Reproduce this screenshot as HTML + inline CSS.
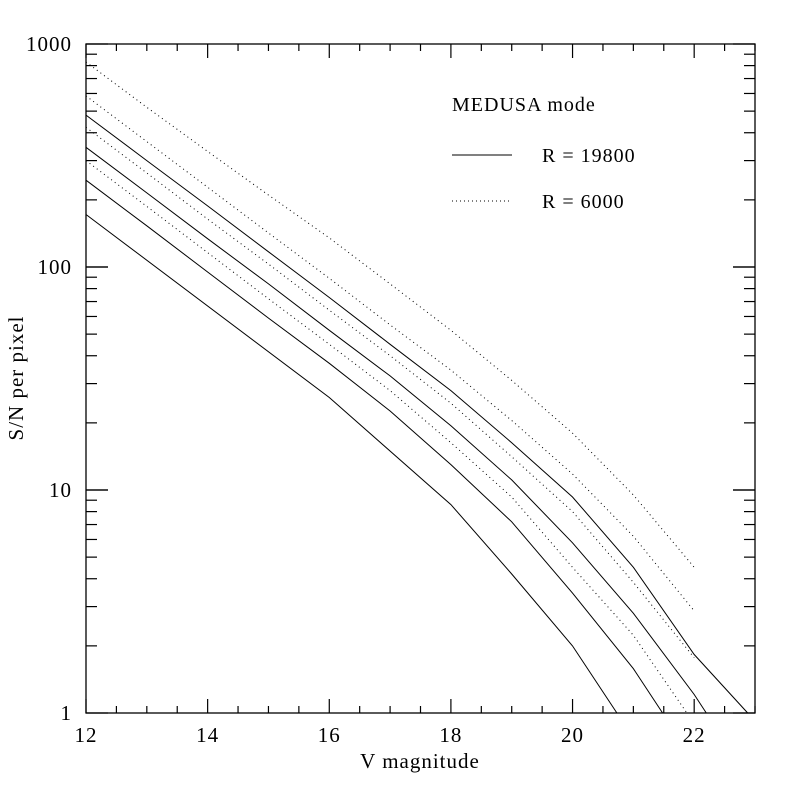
<!DOCTYPE html>
<html><head><meta charset="utf-8"><style>
html,body{margin:0;padding:0;background:#fff;}
svg{display:block;font-family:"Liberation Serif",serif;}
</style></head><body>
<svg id="chart" width="798" height="798" viewBox="0 0 798 798">
<g id="ticks"></g>
<g id="series"></g>
<rect x="86" y="44" width="669" height="669" fill="none" stroke="#000" stroke-width="1.3"/>
<g id="labels" font-size="21" fill="#000" letter-spacing="1"></g>
<text x="420" y="768" font-size="21" letter-spacing="1" text-anchor="middle">V magnitude</text>
<text transform="translate(23,378) rotate(-90)" font-size="21" letter-spacing="1" text-anchor="middle">S/N per pixel</text>
<g letter-spacing="1">
<text x="452" y="111" font-size="20">MEDUSA mode</text>
<line x1="452" y1="155" x2="512" y2="155" stroke="#000" stroke-width="1"/>
<text x="542" y="162" font-size="20">R = 19800</text>
<line x1="452" y1="201" x2="512" y2="201" stroke="#000" stroke-width="1" stroke-dasharray="1,3"/>
<text x="542" y="208" font-size="20">R = 6000</text>
</g>
</svg>
<script>
const xTickLabels=[12,14,16,18,20,22];
const yTickLabels=[1,10,100,1000];
const solid1X=[12,16,18,19,20,20.73];
const solid1Y=[172,26,8.6,4.2,2.0,1];
const solid2X=[12,13,14,15,16,17,18,19,20,21,21.48];
const solid2Y=[245,153,95,59,37,22.6,13.0,7.2,3.45,1.58,1];
const solid3X=[12,13,14,15,16,17,18,19,20,21,22,22.2];
const solid3Y=[344,215,134,84,52,32.5,19.4,11.1,5.8,2.8,1.21,1];
const solid4X=[12,13,14,15,16,17,18,19,20,21,22,22.88];
const solid4Y=[480,300,188,117,73,45,27.9,16.3,9.3,4.5,1.83,1];
const dot1X=[12,13,14,15,16,17,18,19,20,21,22];
const dot1Y=[830,520,330,210,135,84,52,31,18,9.5,4.5];
const dot2X=[12,13,14,15,16,17,18,19,20,21,22];
const dot2Y=[585,365,228,142,89,55,34.5,20.5,11.8,6.2,2.87];
const dot3X=[12,13,14,15,16,17,18,19,20,21,22];
const dot3Y=[423,264,164,103,64,40,24.5,14.1,8.0,3.85,1.77];
const dot4X=[12,13,14,15,16,17,18,19,20,21,21.88];
const dot4Y=[300,187,116,72,45,27.9,16.3,9.3,4.5,2.23,1];

const X0=86,X1=755,Y0=713,Y1=44,xmin=12,xmax=23;
function sx(v){return X0+(v-xmin)/(xmax-xmin)*(X1-X0);}
function sy(v){return Y0-Math.log10(v)/3*(Y0-Y1);}
const NS="http://www.w3.org/2000/svg";
const tg=document.getElementById('ticks'),lg=document.getElementById('labels'),sg=document.getElementById('series');
function ln(x1,y1,x2,y2,name){const l=document.createElementNS(NS,'line');
l.setAttribute('x1',x1);l.setAttribute('y1',y1);l.setAttribute('x2',x2);l.setAttribute('y2',y2);
l.setAttribute('stroke','#000');l.setAttribute('stroke-width','1.2');


tg.appendChild(l);}
for(let m=12;m<=23;m+=0.5){const x=sx(m);const major=(m%2===0);const L=major?14:7;
ln(x,Y0,x,Y0-L,'x-tick');ln(x,Y1,x,Y1+L,'x-tick-top');}
for(let d=0;d<3;d++){for(let k=1;k<=10;k++){const v=k*Math.pow(10,d);const y=sy(v);const major=(k===1||k===10);const L=major?22:11;
ln(X0,y,X0+L,y,'y-tick');ln(X1,y,X1-L,y,'y-tick-right');}}
xTickLabels.forEach(v=>{const t=document.createElementNS(NS,'text');t.setAttribute('x',sx(v));t.setAttribute('y',742);t.setAttribute('text-anchor','middle');t.textContent=v;


lg.appendChild(t);});
yTickLabels.forEach(v=>{const t=document.createElementNS(NS,'text');t.setAttribute('x',72);t.setAttribute('y',sy(v)+7);t.setAttribute('text-anchor','end');t.textContent=v;


lg.appendChild(t);});
function draw(xs,ys,dotted,name){const p=document.createElementNS(NS,'polyline');
p.setAttribute('points',xs.map((x,i)=>sx(x).toFixed(1)+','+sy(ys[i]).toFixed(1)).join(' '));
p.setAttribute('fill','none');p.setAttribute('stroke','#000');p.setAttribute('stroke-width','1');
if(dotted)p.setAttribute('stroke-dasharray','1,3.5');


sg.appendChild(p);}
draw(solid1X,solid1Y,false,'solid-curve-1');
draw(solid2X,solid2Y,false,'solid-curve-2');
draw(solid3X,solid3Y,false,'solid-curve-3');
draw(solid4X,solid4Y,false,'solid-curve-4');
draw(dot1X,dot1Y,true,'dotted-curve-1');
draw(dot2X,dot2Y,true,'dotted-curve-2');
draw(dot3X,dot3Y,true,'dotted-curve-3');
draw(dot4X,dot4Y,true,'dotted-curve-4');
</script>
</body></html>
